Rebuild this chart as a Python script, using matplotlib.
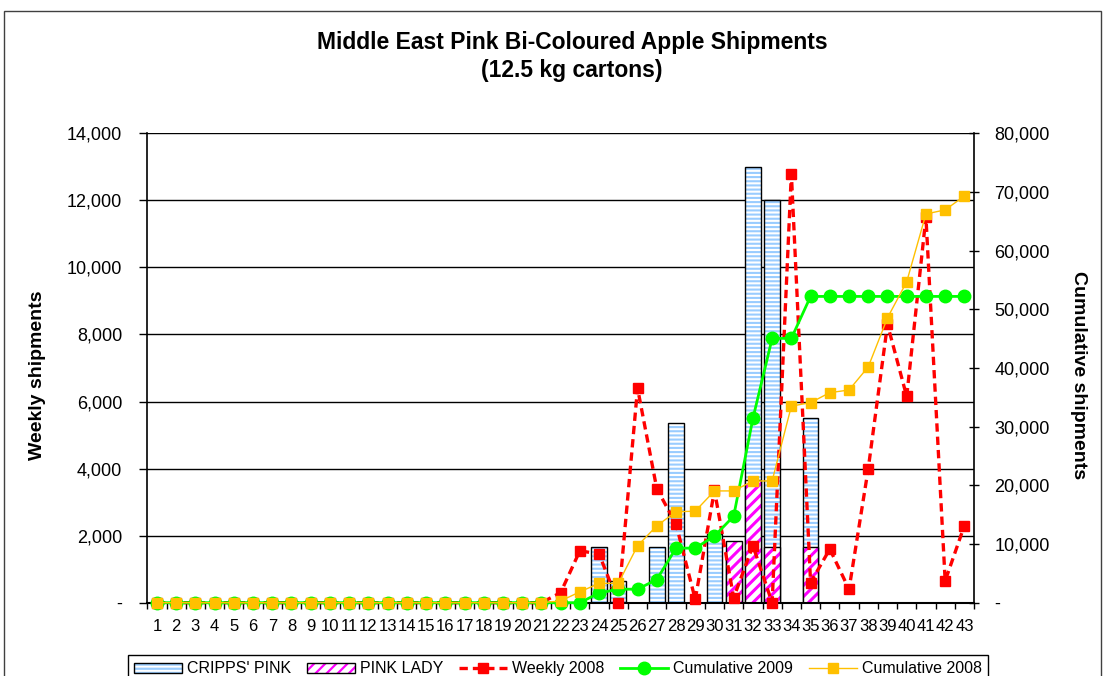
import matplotlib
matplotlib.use("Agg")
import matplotlib.pyplot as plt
from matplotlib.patches import Patch, Rectangle
from matplotlib.lines import Line2D
from matplotlib.ticker import FuncFormatter, FixedLocator

plt.rcParams['font.family'] = ['Liberation Sans', 'DejaVu Sans']
plt.rcParams['hatch.linewidth'] = 1.6

# weeks 1..43
weeks = list(range(1, 44))

cripps_pink = [0] * 23 + [1650, 650, 0, 1650, 5350, 0, 2050, 1550, 13000, 12000, 0, 5500,
                          0, 0, 0, 0, 0, 0, 0, 0]
pink_lady = [0] * 30 + [1850, 3650, 1650, 0, 1650, 0, 0, 0, 0, 0, 0, 0, 0]

weekly_2008 = [0] * 21 + [300, 1550, 1450, 0, 6400, 3400, 2350, 100, 3350, 150, 1700, 0,
                          12800, 600, 1600, 400, 4000, 8300, 6150, 11500, 650, 2300]

cum_2009 = [0] * 23 + [1650, 2300, 2300, 3950, 9300, 9300, 11350, 14750, 31400, 45050,
                       45050, 52200, 52200, 52200, 52200, 52200, 52200, 52200, 52200, 52200]

cum_2008 = [0] * 21 + [300, 1850, 3300, 3300, 9700, 13100, 15500, 15600, 19050, 19050,
                       20750, 20750, 33500, 34100, 35800, 36250, 40200, 48550, 54700,
                       66250, 66950, 69300]

W, H = 1104, 676
fig = plt.figure(figsize=(W / 100, H / 100), dpi=100)
ax = fig.add_axes([147.3 / W, 1 - 602.7 / H, (974 - 147.3) / W, 469.4 / H])
ax2 = ax.twinx()

blue = '#99CCFF'
magenta = '#FF00FF'
bw = 0.82


def striped(p, lw):
    if hasattr(p, 'set_hatch_linewidth'):
        p.set_hatch_linewidth(lw)


# striped bars: hatch layer then black outline
b1 = ax.bar(weeks, cripps_pink, width=bw, color='white', edgecolor=blue, hatch='----',
            linewidth=0, zorder=2)
for p in b1:
    striped(p, 1.5)
ax.bar(weeks, cripps_pink, width=bw, fill=False, edgecolor='black', linewidth=1, zorder=2.1)
b2 = ax.bar(weeks, pink_lady, width=bw, color='white', edgecolor=magenta, hatch='///',
            linewidth=0, zorder=2.2)
for p in b2:
    striped(p, 2.2)
ax.bar(weeks, pink_lady, width=bw, fill=False, edgecolor='black', linewidth=1, zorder=2.3)

ax.plot(weeks, weekly_2008, color='#FF0000', linestyle=(0, (2.5, 1.5)), linewidth=2.4,
        marker='s', markersize=6.5, zorder=3, clip_on=False)

ax2.plot(weeks, cum_2009, color='#00FF00', linewidth=2, marker='o', markersize=9,
         zorder=3, clip_on=False)
ax2.plot(weeks, cum_2008, color='#FFC000', linewidth=1, marker='s', markersize=6.5,
         zorder=4, clip_on=False)

ax.set_xlim(0.5, 43.5)
ax.set_ylim(0, 14000)
ax2.set_ylim(0, 80000)


def acc(v, pos):
    return '-' if v == 0 else f'{v:,.0f}'


ax.yaxis.set_major_locator(FixedLocator(range(0, 14001, 2000)))
ax.yaxis.set_major_formatter(FuncFormatter(acc))
ax2.yaxis.set_major_locator(FixedLocator(range(0, 80001, 10000)))
ax2.yaxis.set_major_formatter(FuncFormatter(acc))

ax.set_xticks(weeks)
ax.set_xticklabels([str(w) for w in weeks])
ax.set_xticks([w + 0.5 for w in range(0, 44)], minor=True)
ax.tick_params(axis='x', which='major', length=0, pad=12, labelsize=12)
ax.tick_params(axis='x', which='minor', length=4, width=1, direction='out')
ax.tick_params(axis='y', direction='out', length=6, width=1, pad=12, labelsize=13)
ax2.tick_params(axis='y', direction='inout', length=7, width=1, pad=11, labelsize=13)

ax.yaxis.grid(True, color='black', linewidth=1)
ax.set_axisbelow(True)

for s in ['top', 'right']:
    ax.spines[s].set_visible(False)
for s in ['top', 'left', 'bottom']:
    ax2.spines[s].set_visible(False)
ax.spines['left'].set_linewidth(1.2)
ax.spines['bottom'].set_linewidth(1.5)
ax2.spines['right'].set_linewidth(1.2)

fig.text(572 / W, 1 - 43 / H, 'Middle East Pink Bi-Coloured Apple Shipments',
         ha='center', va='center', fontsize=16.5, fontweight='bold')
fig.text(572 / W, 1 - 70 / H, '(12.5 kg cartons)',
         ha='center', va='center', fontsize=16.5, fontweight='bold')
fig.text(38 / W, 1 - 375 / H, 'Weekly shipments', rotation=90, ha='center', va='center',
         fontsize=14, fontweight='bold')
fig.text(1078 / W, 1 - 375 / H, 'Cumulative shipments', rotation=270, ha='center',
         va='center', fontsize=14, fontweight='bold')

# outer chart border
fig.patches.append(Rectangle((4 / W, -0.05), (1101 - 4) / W, 1 - 10.7 / H + 0.05,
                             transform=fig.transFigure, fill=False, edgecolor='#404040',
                             linewidth=1))

h_cripps = (Patch(facecolor='white', edgecolor=blue, hatch='----', linewidth=0),
            Patch(facecolor='none', edgecolor='black', linewidth=1))
h_lady = (Patch(facecolor='white', edgecolor=magenta, hatch='///', linewidth=0),
          Patch(facecolor='none', edgecolor='black', linewidth=1))
h_w08 = Line2D([], [], color='#FF0000', linestyle=(0, (2.5, 1.5)), linewidth=2.4,
               marker='s', markersize=6.5)
h_c09 = Line2D([], [], color='#00FF00', linewidth=2, marker='o', markersize=9)
h_c08 = Line2D([], [], color='#FFC000', linewidth=1, marker='s', markersize=6.5)

leg = fig.legend([h_cripps, h_lady, h_w08, h_c09, h_c08],
                 ["CRIPPS' PINK", 'PINK LADY', 'Weekly 2008', 'Cumulative 2009',
                  'Cumulative 2008'],
                 ncol=5, loc='upper left', bbox_to_anchor=(128 / W, 1 - 655 / H),
                 fontsize=11.5, frameon=True, fancybox=False, edgecolor='black',
                 framealpha=1, handlelength=3, handleheight=0.6, columnspacing=1.0,
                 handletextpad=0.3, borderaxespad=0, borderpad=0.4)
leg.get_frame().set_linewidth(1)

fig.savefig('out.png', dpi=100)
